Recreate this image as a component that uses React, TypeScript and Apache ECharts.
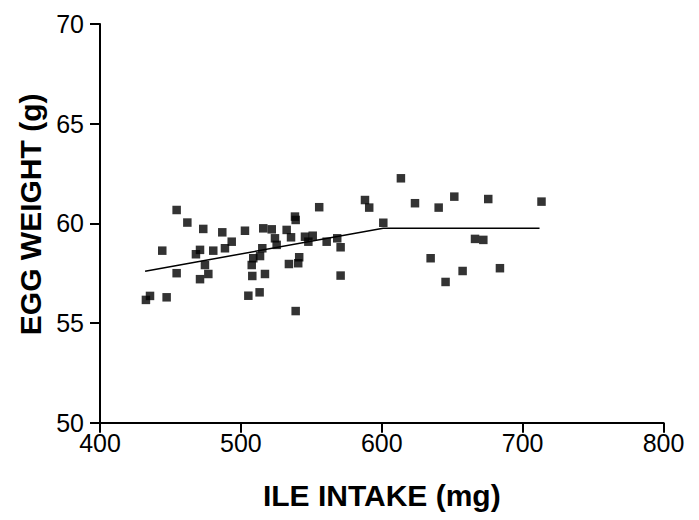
import React, { useEffect, useRef } from "react";
import * as echarts from "echarts";

const xTicks = [400, 500, 600, 700, 800];
const yTicks = [50, 55, 60, 65, 70];

const intake = [
  432.6, 435.5, 447.3, 444.2, 454.4, 454.4, 462.0, 468.1, 471.0, 471.0,
  473.3, 474.5, 476.9, 480.4, 486.8, 488.7, 493.5, 502.9, 505.3, 507.7,
  508.8, 508.1, 513.3, 513.6, 515.2, 515.9, 517.1, 521.9, 524.2, 525.4,
  532.5, 534.1, 535.6, 538.4, 538.9, 538.9, 540.7, 541.4, 545.5, 547.9,
  551.0, 555.6, 560.9, 568.4, 570.8, 570.8, 588.1, 591.1, 601.1, 613.6,
  623.6, 634.7, 640.4, 645.3, 651.5, 657.4, 666.2, 672.1, 675.6, 683.9,
  713.4,
];
const eggWeight = [
  56.16, 56.36, 56.29, 58.63, 57.5, 60.67, 60.04, 58.45, 58.67, 57.2,
  59.72, 57.91, 57.46, 58.63, 59.55, 58.75, 59.08, 59.63, 56.37, 57.91,
  58.25, 57.36, 56.54, 58.36, 58.75, 59.75, 57.46, 59.7, 59.25, 58.92,
  59.67, 57.96, 59.3, 60.34, 60.17, 55.6, 58.0, 58.3, 59.33, 59.08,
  59.38, 60.81, 59.08, 59.25, 58.8, 57.38, 61.17, 60.79, 60.03, 62.26,
  61.01, 58.25, 60.79, 57.06, 61.34, 57.61, 59.22, 59.17, 61.22, 57.75,
  61.09,
];

const fitX = [432, 601, 712];
const fitY = [57.6, 59.75, 59.75];

export default function App() {
  const ref = useRef<HTMLDivElement>(null);
  useEffect(() => {
    if (!ref.current) return;
    const chart = echarts.init(ref.current, null, { renderer: "svg" });
    const font = "'Liberation Sans', Arial, Helvetica, sans-serif";
    chart.setOption({
      animation: false,
      backgroundColor: "#ffffff",
      grid: { left: 100, right: 35.5, top: 24, bottom: 97.3 },
      xAxis: {
        type: "value",
        min: xTicks[0],
        max: xTicks[xTicks.length - 1],
        interval: 100,
        name: "ILE INTAKE (mg)",
        nameLocation: "middle",
        nameGap: 58,
        nameTextStyle: { fontFamily: font, fontWeight: "bold", fontSize: 30, color: "#000" },
        axisLine: { show: true, onZero: false, lineStyle: { color: "#000", width: 2 } },
        axisTick: { show: true, length: 10, lineStyle: { color: "#000", width: 2 } },
        axisLabel: { fontFamily: font, fontSize: 25, color: "#000", margin: 8 },
        splitLine: { show: false },
      },
      yAxis: {
        type: "value",
        min: yTicks[0],
        max: yTicks[yTicks.length - 1],
        interval: 5,
        name: "EGG WEIGHT (g)",
        nameLocation: "middle",
        nameGap: 55,
        nameTextStyle: { fontFamily: font, fontWeight: "bold", fontSize: 30, color: "#000", padding: [0, 0, 0, 18] },
        axisLine: { show: true, onZero: false, lineStyle: { color: "#000", width: 2 } },
        axisTick: { show: true, length: 10, lineStyle: { color: "#000", width: 2 } },
        axisLabel: { fontFamily: font, fontSize: 25, color: "#000", margin: 16 },
        splitLine: { show: false },
      },
      series: [
        {
          type: "scatter",
          symbol: "rect",
          symbolSize: 8.5,
          itemStyle: { color: "#000" },
          data: intake.map((x, i) => [x, eggWeight[i]]),
          z: 3,
        },
        {
          type: "line",
          symbol: "none",
          lineStyle: { color: "#000", width: 1.5 },
          data: fitX.map((x, i) => [x, fitY[i]]),
          z: 2,
        },
      ],
    });
    return () => chart.dispose();
  }, []);
  return (
    <div
      ref={ref}
      style={{ position: "fixed", left: 0, top: 0, width: 699, height: 520, background: "#fff" }}
    />
  );
}
